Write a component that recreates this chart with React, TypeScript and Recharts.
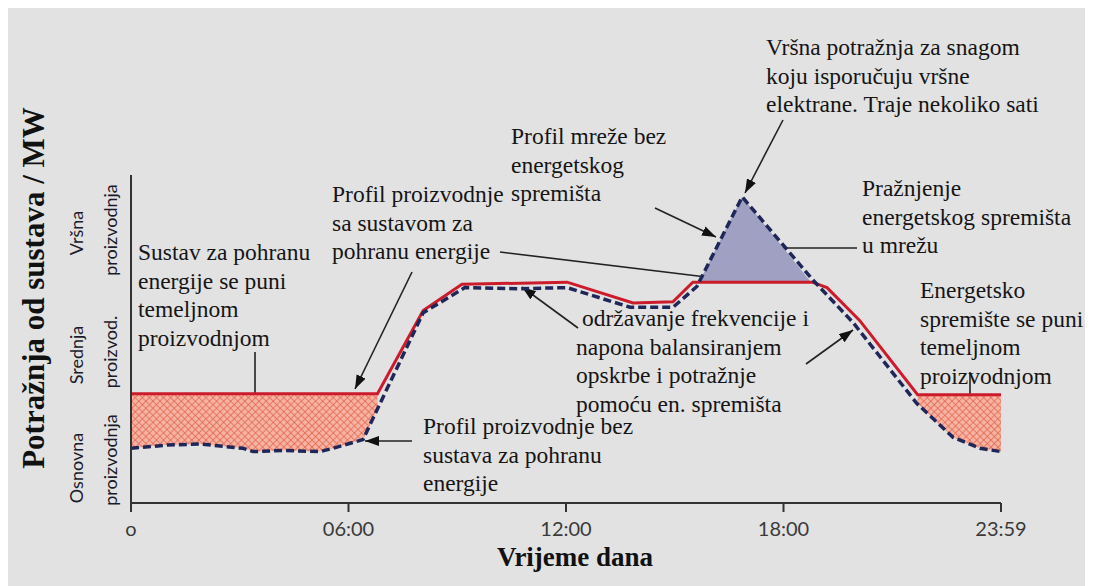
import React from "react";
import { ComposedChart, Line, Area, XAxis, YAxis, Customized } from "recharts";

// hour of day (0-24) and load level (0 = baseline, 3 = top of peak band)
const withStorageHours = [0, 6.8, 8.06, 9.13, 12.03, 13.85, 14.95, 15.5, 18.79, 19.2, 20.1, 21.7, 24];
const withStorageLoad = [1.0, 1.0, 1.76, 2.0, 2.02, 1.83, 1.84, 2.02, 2.02, 1.97, 1.67, 0.99, 0.99];

const withoutStorageHours = [
  0, 0.99, 1.9, 3.09, 3.37, 4.19, 5.21, 5.57, 6.4, 6.87, 8.06, 9.21, 10.73, 12.03, 13.77, 14.95,
  15.61, 16.86, 18.81, 19.92, 21.68, 22.68, 23.42, 24,
];
const withoutStorageLoad = [
  0.5, 0.53, 0.54, 0.5, 0.47, 0.48, 0.47, 0.5, 0.58, 0.91, 1.74, 1.97, 1.96, 1.97, 1.79, 1.79,
  1.98, 2.8, 2.04, 1.65, 0.91, 0.6, 0.5, 0.47,
];

// storage charging at night / early morning
const morningChargeHours = [0, 0.99, 1.9, 3.09, 3.37, 4.19, 5.21, 5.57, 6.4, 6.8];
const morningChargeLow = [0.5, 0.53, 0.54, 0.5, 0.47, 0.48, 0.47, 0.5, 0.58, 0.86];
const morningChargeHigh = [1, 1, 1, 1, 1, 1, 1, 1, 1, 1];

// storage discharging into the grid at the peak
const peakDischargeHours = [15.67, 16.86, 18.76];
const peakDischargeLow = [2.02, 2.02, 2.02];
const peakDischargeHigh = [2.02, 2.8, 2.02];

// storage charging in the late evening
const eveningChargeHours = [21.7, 22.68, 23.42, 24];
const eveningChargeLow = [0.91, 0.6, 0.5, 0.47];
const eveningChargeHigh = [0.99, 0.99, 0.99, 0.99];

const timeTicks = [0, 6, 12, 18, 24];
const timeTickLabels = ["o", "06:00", "12:00", "18:00", "23:59"];
const levelTicks = [0, 1, 2, 3];
const levelBandLabels = [
  ["Osnovna", "proizvodnja"],
  ["Srednja", "proizvod."],
  ["Vršna", "proizvodnja"],
];

const toLine = (hours: number[], load: number[]) => hours.map((h, i) => ({ h, v: load[i] }));
const toBand = (hours: number[], low: number[], high: number[]) =>
  hours.map((h, i) => ({ h, band: [low[i], high[i]] }));

const withStorage = toLine(withStorageHours, withStorageLoad);
const withoutStorage = toLine(withoutStorageHours, withoutStorageLoad);
const morningCharge = toBand(morningChargeHours, morningChargeLow, morningChargeHigh);
const peakDischarge = toBand(peakDischargeHours, peakDischargeLow, peakDischargeHigh);
const eveningCharge = toBand(eveningChargeHours, eveningChargeLow, eveningChargeHigh);

const SERIF = "'Liberation Serif', 'Times New Roman', serif";
const SANS = "Lato, 'Open Sans', sans-serif";

// annotation texts, in page pixels (baseline of each line)
const notes = [
  { x: 138, y: 260, lines: ["Sustav za pohranu", "energije se puni", "temeljnom", "proizvodnjom"] },
  { x: 332, y: 202, lines: ["Profil proizvodnje", "sa sustavom za", "pohranu energije"] },
  { x: 511, y: 144, lines: ["Profil mreže bez", "energetskog", "spremišta"] },
  { x: 766, y: 55, lines: ["Vršna potražnja za snagom", "koju isporučuju vršne", "elektrane. Traje nekoliko sati"] },
  { x: 862, y: 196, lines: ["Pražnjenje", "energetskog spremišta", "u mrežu"] },
  { x: 920, y: 298, lines: ["Energetsko", "spremište se puni", "temeljnom", "proizvodnjom"] },
  { x: 576, y: 326, lines: [" održavanje frekvencije i", "napona balansiranjem", "opskrbe i potražnje", "pomoću en. spremišta"] },
  { x: 423, y: 434, lines: ["Profil proizvodnje bez", "sustava za pohranu", "energije"] },
];

const arrows = [
  [255, 352, 255, 424],
  [412, 272, 355, 389],
  [500, 252, 731, 280],
  [655, 208, 716, 237],
  [783, 120, 745, 193],
  [857, 248, 750, 248],
  [806, 364, 853, 330],
  [578, 328, 522, 287],
  [412, 441, 365, 441],
  [970, 372, 970, 425],
];

const Annotations = () => (
  <g transform="translate(-8,-8)">
    <defs>
      <marker id="arrowHead" viewBox="0 0 14 10" refX="14" refY="5" markerWidth="14" markerHeight="10"
        markerUnits="userSpaceOnUse" orient="auto">
        <path d="M0,0 L14,5 L0,10 z" fill="#111" />
      </marker>
    </defs>
    {arrows.map(([x1, y1, x2, y2], i) => (
      <line key={i} x1={x1} y1={y1} x2={x2} y2={y2} stroke="#222" strokeWidth={1.6} markerEnd="url(#arrowHead)" />
    ))}
    {notes.map((n, i) => (
      <text key={i} style={{ fontFamily: SERIF, fontSize: 23.5, whiteSpace: "pre" }} fill="#151515">
        {n.lines.map((l, j) => (
          <tspan key={j} x={n.x} y={n.y + j * 28.5}>{l}</tspan>
        ))}
      </text>
    ))}
    {levelBandLabels.map(([a, b], i) => {
      const cy = [460, 352, 230][i];
      return (
        <g key={i} style={{ fontFamily: SANS, fontSize: 18 }} fill="#1a1a2a" textAnchor="middle">
          <text transform={`translate(83,${cy + (i === 0 ? 8 : 3)}) rotate(-90)`}>{a}</text>
          <text transform={`translate(117,${cy}) rotate(-90)`}>{b}</text>
        </g>
      );
    })}
    <text transform="translate(44,288) rotate(-90)" textAnchor="middle"
      style={{ fontFamily: SERIF, fontWeight: "bold", fontSize: 31 }} fill="#111">
      Potražnja od sustava / MW
    </text>
    <text x={575} y={566} textAnchor="middle" style={{ fontFamily: SERIF, fontWeight: "bold", fontSize: 27 }}
      fill="#111">
      Vrijeme dana
    </text>
  </g>
);

export default function App() {
  return (
    <div style={{ width: 1085, height: 578, background: "#e2e2e2" }}>
      <ComposedChart width={1085} height={578} margin={{ top: 167, right: 92, bottom: 43, left: 83 }}>
        <defs>
          <pattern id="hatch" width="5" height="5" patternUnits="userSpaceOnUse" patternTransform="rotate(45)">
            <rect width="5" height="5" fill="#f6b2a2" />
            <path d="M0,0 L5,0 M0,0 L0,5" stroke="#e2664f" strokeWidth="1.5" />
          </pattern>
        </defs>
        <XAxis
          type="number"
          dataKey="h"
          domain={[0, 24]}
          ticks={timeTicks}
          tickFormatter={(v: number) => timeTickLabels[timeTicks.indexOf(v)]}
          height={40}
          tickSize={9}
          tickMargin={10}
          axisLine={{ stroke: "#333", strokeWidth: 2 }}
          tickLine={{ stroke: "#333", strokeWidth: 2 }}
          tick={{ fontFamily: SANS, fontSize: 20, fill: "#3a3a3a" }}
          allowDataOverflow
        />
        <YAxis
          type="number"
          domain={[0, 3]}
          ticks={levelTicks}
          width={40}
          tickSize={11}
          tick={false}
          axisLine={{ stroke: "#333", strokeWidth: 2 }}
          tickLine={{ stroke: "#333", strokeWidth: 2 }}
          allowDataOverflow
        />
        <Area data={morningCharge} dataKey="band" type="linear" stroke="none" fill="url(#hatch)" fillOpacity={1}
          isAnimationActive={false} />
        <Area data={eveningCharge} dataKey="band" type="linear" stroke="none" fill="url(#hatch)" fillOpacity={1}
          isAnimationActive={false} />
        <Area data={peakDischarge} dataKey="band" type="linear" stroke="none" fill="#9fa0c2" fillOpacity={1}
          isAnimationActive={false} />
        <Line data={withStorage} dataKey="v" type="linear" stroke="#cc1b2b" strokeWidth={3} dot={false}
          isAnimationActive={false} />
        <Line data={withoutStorage} dataKey="v" type="linear" stroke="#1e2758" strokeWidth={3.5}
          strokeDasharray="8 4" dot={false} isAnimationActive={false} />
        <Customized component={Annotations} />
      </ComposedChart>
    </div>
  );
}
